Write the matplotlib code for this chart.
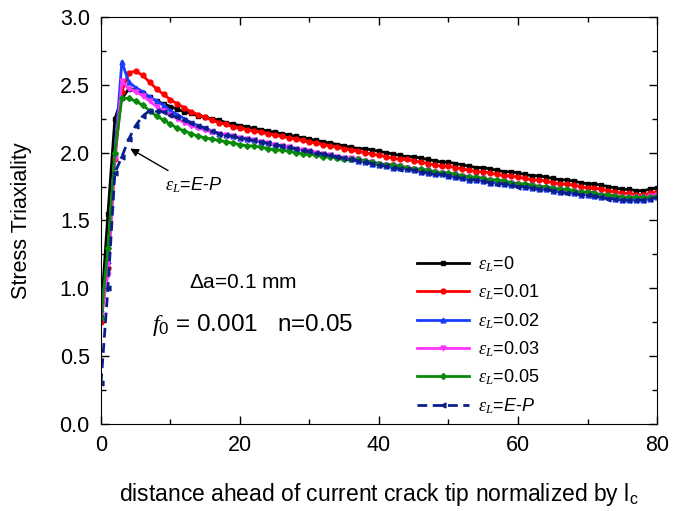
import matplotlib
matplotlib.use("Agg")
import matplotlib.pyplot as plt
from matplotlib.ticker import MultipleLocator

plt.rcParams['font.family'] = ['Liberation Sans', 'DejaVu Sans']
plt.rcParams['mathtext.fontset'] = 'custom'
plt.rcParams['mathtext.rm'] = 'Liberation Sans'
plt.rcParams['mathtext.it'] = 'Liberation Serif:italic'
plt.rcParams['mathtext.sf'] = 'Liberation Sans:italic'

x = list(range(0, 81))

eps_0 = [0.80, 1.55, 2.25, 2.40, 2.47, 2.46, 2.44, 2.41, 2.38, 2.36,
         2.34, 2.32, 2.30, 2.29, 2.27, 2.26, 2.25, 2.24, 2.22, 2.21,
         2.20, 2.19, 2.18, 2.17, 2.16, 2.15, 2.14, 2.13, 2.12, 2.11,
         2.10, 2.09, 2.08, 2.07, 2.06, 2.05, 2.04, 2.03, 2.03, 2.02,
         2.01, 2.00, 1.99, 1.98, 1.97, 1.97, 1.96, 1.95, 1.94, 1.93,
         1.93, 1.92, 1.91, 1.90, 1.89, 1.89, 1.88, 1.87, 1.86, 1.86,
         1.85, 1.84, 1.83, 1.83, 1.82, 1.81, 1.80, 1.80, 1.79, 1.78,
         1.77, 1.77, 1.76, 1.75, 1.74, 1.73, 1.73, 1.72, 1.72, 1.73,
         1.74]

eps_001 = [0.75, 1.15, 1.95, 2.45, 2.59, 2.60, 2.57, 2.52, 2.47, 2.43,
           2.39, 2.36, 2.33, 2.30, 2.28, 2.26, 2.24, 2.22, 2.21, 2.19,
           2.18, 2.17, 2.16, 2.15, 2.14, 2.13, 2.12, 2.11, 2.10, 2.09,
           2.08, 2.07, 2.06, 2.05, 2.04, 2.03, 2.02, 2.01, 2.00, 1.99,
           1.98, 1.97, 1.96, 1.95, 1.95, 1.94, 1.93, 1.92, 1.91, 1.90,
           1.90, 1.89, 1.88, 1.87, 1.86, 1.86, 1.85, 1.84, 1.83, 1.83,
           1.82, 1.81, 1.80, 1.80, 1.79, 1.78, 1.77, 1.77, 1.76, 1.75,
           1.74, 1.74, 1.73, 1.72, 1.71, 1.70, 1.70, 1.69, 1.69, 1.70,
           1.71]

eps_002 = [0.85, 1.20, 2.00, 2.67, 2.52, 2.48, 2.45, 2.41, 2.38, 2.35,
           2.31, 2.28, 2.25, 2.22, 2.20, 2.18, 2.16, 2.14, 2.13, 2.12,
           2.11, 2.10, 2.09, 2.08, 2.07, 2.06, 2.05, 2.04, 2.03, 2.02,
           2.01, 2.00, 1.99, 1.98, 1.97, 1.96, 1.95, 1.94, 1.93, 1.92,
           1.91, 1.90, 1.89, 1.89, 1.88, 1.87, 1.86, 1.85, 1.84, 1.84,
           1.83, 1.82, 1.81, 1.80, 1.80, 1.79, 1.78, 1.78, 1.77, 1.76,
           1.76, 1.75, 1.74, 1.73, 1.73, 1.72, 1.71, 1.71, 1.70, 1.69,
           1.69, 1.68, 1.67, 1.67, 1.66, 1.65, 1.65, 1.65, 1.65, 1.66,
           1.67]

eps_003 = [0.80, 1.10, 1.95, 2.53, 2.47, 2.45, 2.42, 2.38, 2.34, 2.31,
           2.28, 2.25, 2.22, 2.20, 2.18, 2.17, 2.15, 2.14, 2.13, 2.12,
           2.11, 2.10, 2.09, 2.08, 2.07, 2.06, 2.05, 2.04, 2.03, 2.02,
           2.01, 2.00, 1.99, 1.98, 1.97, 1.96, 1.96, 1.95, 1.94, 1.93,
           1.92, 1.91, 1.91, 1.90, 1.89, 1.88, 1.87, 1.87, 1.86, 1.85,
           1.84, 1.84, 1.83, 1.82, 1.81, 1.81, 1.80, 1.79, 1.79, 1.78,
           1.77, 1.76, 1.76, 1.75, 1.74, 1.74, 1.73, 1.72, 1.72, 1.71,
           1.70, 1.70, 1.69, 1.68, 1.68, 1.67, 1.67, 1.67, 1.67, 1.68,
           1.69]

eps_005 = [0.78, 1.30, 2.00, 2.40, 2.40, 2.38, 2.35, 2.31, 2.27, 2.24,
           2.21, 2.18, 2.16, 2.14, 2.12, 2.11, 2.10, 2.09, 2.08, 2.07,
           2.06, 2.05, 2.05, 2.04, 2.03, 2.02, 2.02, 2.01, 2.00, 1.99,
           1.99, 1.98, 1.97, 1.97, 1.96, 1.95, 1.95, 1.95, 1.94, 1.93,
           1.92, 1.91, 1.91, 1.90, 1.89, 1.88, 1.88, 1.87, 1.86, 1.85,
           1.85, 1.84, 1.83, 1.82, 1.82, 1.81, 1.80, 1.80, 1.79, 1.78,
           1.77, 1.77, 1.76, 1.75, 1.75, 1.74, 1.73, 1.73, 1.72, 1.71,
           1.71, 1.70, 1.69, 1.69, 1.68, 1.67, 1.67, 1.67, 1.67, 1.67,
           1.68]

eps_ep = [0.30, 1.00, 1.85, 1.97, 2.10, 2.20, 2.27, 2.31, 2.31, 2.30,
          2.28, 2.26, 2.24, 2.22, 2.20, 2.18, 2.16, 2.14, 2.13, 2.12,
          2.11, 2.10, 2.09, 2.08, 2.07, 2.06, 2.05, 2.04, 2.03, 2.02,
          2.01, 2.00, 1.99, 1.98, 1.97, 1.96, 1.95, 1.94, 1.93, 1.92,
          1.91, 1.90, 1.89, 1.88, 1.88, 1.87, 1.86, 1.85, 1.84, 1.84,
          1.83, 1.82, 1.81, 1.80, 1.80, 1.79, 1.78, 1.77, 1.77, 1.76,
          1.75, 1.75, 1.74, 1.73, 1.73, 1.72, 1.71, 1.70, 1.70, 1.69,
          1.69, 1.68, 1.67, 1.66, 1.66, 1.65, 1.65, 1.65, 1.65, 1.66,
          1.67]

labels = [r'$\varepsilon_L$=0', r'$\varepsilon_L$=0.01', r'$\varepsilon_L$=0.02',
          r'$\varepsilon_L$=0.03', r'$\varepsilon_L$=0.05', r'$\varepsilon_L$=$\mathsf{E}$-$\mathsf{P}$']

fig = plt.figure(figsize=(6.94, 5.11), dpi=100)
ax = fig.add_axes([0.1455, 0.1703, 0.8012, 0.7964])

styles = [
    dict(color='black', marker='s', ls='-'),
    dict(color='red', marker='o', ls='-'),
    dict(color='#1a3cff', marker='^', ls='-'),
    dict(color='#ff33ff', marker='v', ls='-'),
    dict(color='#0a8a0a', marker='D', ls='-'),
    dict(color='#0b1f8c', marker='<', ls=(0, (3.5, 2))),
]
series = [eps_0, eps_001, eps_002, eps_003, eps_005, eps_ep]
for ys, st, lab in zip(series, styles, labels):
    ms = 3.5 if st['marker'] != 'D' else 3
    ax.plot(x, ys, color=st['color'], marker=st['marker'], ls=st['ls'],
            lw=2, ms=ms, label=lab)

ax.set_xlim(0, 80)
ax.set_ylim(0, 3.0)
ax.xaxis.set_major_locator(MultipleLocator(20))
ax.xaxis.set_minor_locator(MultipleLocator(10))
ax.yaxis.set_major_locator(MultipleLocator(0.5))
ax.yaxis.set_minor_locator(MultipleLocator(0.25))
ax.tick_params(which='both', direction='in', top=True, right=True, labelsize=15.5)
ax.tick_params(which='major', length=6, width=1)
ax.tick_params(axis='y', which='major', pad=8)
ax.tick_params(axis='x', which='major', pad=8)
ax.tick_params(which='minor', length=3.5, width=1)
ax.set_yticklabels([f'{v:.1f}' for v in ax.get_yticks()])

ax.set_ylabel('Stress Triaxiality', fontsize=15.5, labelpad=20)
ax.set_xlabel(r'distance ahead of current crack tip normalized by l$_\mathregular{c}$',
              fontsize=16.5, labelpad=18)

leg = ax.legend(loc='upper left', bbox_to_anchor=(0.555, 0.435), frameon=False,
                fontsize=13, handlelength=2.9, labelspacing=0.48, handletextpad=0.5,
                borderaxespad=0)

ax.text(20.5, 1.04, r'$\Delta$a=0.1 mm', fontsize=15, ha='center', va='center')
ax.text(7.4, 0.73, r'$f_0$ = 0.001   n=0.05', fontsize=17.5, ha='left', va='center')

ax.annotate(r'$\varepsilon_L$=$\mathsf{E}$-$\mathsf{P}$', xy=(4.2, 2.03), xytext=(9.2, 1.76),
            fontsize=13, ha='left', va='center',
            arrowprops=dict(arrowstyle='-|>', color='black', lw=1, mutation_scale=12,
                            shrinkA=3, shrinkB=0))

fig.savefig('out.png', dpi=100)
